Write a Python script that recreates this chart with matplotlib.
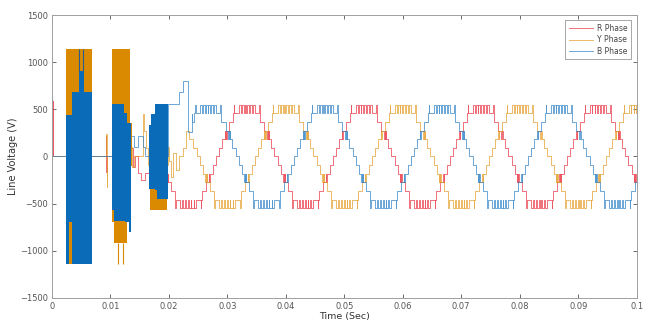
import numpy as np
import matplotlib
matplotlib.use("Agg")
import matplotlib.pyplot as plt

# ---------------- data ----------------
PERIOD = 0.02          # s (peak-to-peak spacing of each phase)
T_END = 0.1

# One positive half cycle of the steady-state staircase (angle in deg, level in V);
# the negative half cycle is the mirror image (as seen in the picture).
HALF_ANGLES = [0, 4.8, 14.5, 22.0, 23.0, 24.6, 26.0, 27.5, 35.7, 48.6, 49.5, 52.0,
               65, 72, 74, 81, 83, 89, 91, 97, 99, 106, 108, 115, 128, 130.5,
               131.4, 144.3, 152.5, 154.0, 155.4, 157.0, 158.0, 165.5, 175.2]
HALF_LEVELS = [0, 92, 183, 275, 183, 275, 183, 275, 367, 458, 550, 458,
               550, 458, 550, 458, 550, 458, 550, 458, 550, 458, 550, 458, 550, 458,
               367, 275, 183, 275, 183, 275, 183, 92, 0]

# rising zero crossing of each phase (s) and time from which it is in steady state
ZERO_R, ZERO_Y, ZERO_B = 0.00833, 0.0150, 0.00167
START_R, START_Y, START_B = 0.0190, 0.0240, 0.0240

# transient part of each phase (step breakpoints: time s, voltage V)
R_TR_T = [0.0, 0.0001, 0.0002, 0.0092, 0.0093, 0.0094, 0.0133, 0.0136, 0.0139,
          0.0142, 0.0147, 0.0152, 0.0160, 0.0168, 0.0176, 0.0183]
R_TR_V = [0, 590, 0, 220, -170, 0, 220, 90, -110, 0, -180, -250, -180, -250, -330, -250]

Y_TR_T = [0.0, 0.0093, 0.00935, 0.0094, 0.0133, 0.0135, 0.0137, 0.0140, 0.0155,
          0.0158, 0.0161, 0.0164, 0.0199, 0.0201, 0.0204, 0.0207, 0.0212, 0.0218,
          0.0224, 0.0229, 0.0234]
Y_TR_V = [0, 240, -320, 0, 350, 100, -110, 0, 455, 275, 92, -95, 100, -50, -220,
          40, -148, 0, 92, 275, 183]

B_TR_T = [0.0, 0.0134, 0.0136, 0.0140, 0.0147, 0.0155, 0.0160, 0.0199, 0.0218,
          0.0224, 0.0233, 0.0239]
B_TR_V = [0, 250, 220, 100, 220, 100, 0, 560, 680, 800, 258, 455]

# dense switching blocks during start-up (step envelopes)
Y_BLK1_T = [0.00234, 0.00678]
Y_BLK1_HI = [1140, 1140]
Y_BLK1_LO = [-1140, -1140]
B_BLK1_T = [0.00234, 0.0029, 0.0034, 0.0035, 0.0046, 0.0055, 0.00678]
B_BLK1_HI = [440, 440, 680, 680, 908, 680, 680]
B_BLK1_LO = [-1140, -690, -690, -1140, -1140, -1140, -1140]

Y_BLK2_T = [0.0102, 0.0107, 0.0128, 0.01334, 0.0137]
Y_BLK2_HI = [1140, 1140, 1140, 350, 350]
Y_BLK2_LO = [-690, -920, -700, -100, -100]
B_BLK2_T = [0.0102, 0.0107, 0.0124, 0.0125, 0.0129, 0.0131, 0.0135]
B_BLK2_HI = [560, 560, 460, 460, 350, 350, 350]
B_BLK2_LO = [-570, -680, -680, -700, -700, -800, -800]

Y_BLK3_T = [0.0168, 0.0196]
Y_BLK3_HI = [-340, -340]
Y_BLK3_LO = [-570, -570]
B_BLK3_T = [0.01655, 0.0170, 0.0176, 0.0180, 0.0199]
B_BLK3_HI = [330, 455, 560, 560, 560]
B_BLK3_LO = [-340, -340, -360, -450, -450]

# isolated spikes
B_SPIKE_T = [0.00455, 0.0053]
B_SPIKE_LO, B_SPIKE_HI = 908, 1140
Y_SPIKE_T = [0.01134, 0.01219]
Y_SPIKE_LO, Y_SPIKE_HI = -920, -1140

X_TICKS = [0, 0.01, 0.02, 0.03, 0.04, 0.05, 0.06, 0.07, 0.08, 0.09, 0.1]
X_LABELS = ["0", "0.01", "0.02", "0.03", "0.04", "0.05", "0.06", "0.07", "0.08", "0.09", "0.1"]
Y_TICKS = [-1500, -1000, -500, 0, 500, 1000, 1500]
LEGEND = ["R Phase", "Y Phase", "B Phase"]

C_R, C_Y, C_B = "#E8303F", "#E39A22", "#2A7FC4"
C_YBLK, C_BBLK = "#D98A00", "#0A6CB8"


def phase_wave(zero, start, tr_t, tr_v):
    ang = np.asarray(HALF_ANGLES, float)
    lev = np.asarray(HALF_LEVELS, float)
    ts, vs = [], []
    for k in range(-2, 8):
        for h, sgn in ((0, 1), (1, -1)):
            ts.extend(zero + k * PERIOD + (ang + 180 * h) / 360 * PERIOD)
            vs.extend(sgn * lev)
    ts = np.asarray(ts); vs = np.asarray(vs)
    order = np.argsort(ts)
    ts, vs = ts[order], vs[order]
    before = vs[ts <= start]
    v0 = before[-1] if len(before) else 0
    keep = (ts > start) & (ts <= T_END)
    t_all = list(tr_t) + [start] + list(ts[keep]) + [T_END]
    v_all = list(tr_v) + [v0] + list(vs[keep]) + [vs[keep][-1]]
    return np.asarray(t_all), np.asarray(v_all)


fig = plt.figure(figsize=(6.49, 3.27), dpi=100)
ax = fig.add_axes([0.080, 0.089, 0.901, 0.865])

for (zero, start, tt, vv, c, lab) in [
        (ZERO_R, START_R, R_TR_T, R_TR_V, C_R, LEGEND[0]),
        (ZERO_Y, START_Y, Y_TR_T, Y_TR_V, C_Y, LEGEND[1]),
        (ZERO_B, START_B, B_TR_T, B_TR_V, C_B, LEGEND[2])]:
    t, v = phase_wave(zero, start, tt, vv)
    ax.plot(t, v, drawstyle="steps-post", color=c, lw=0.6, alpha=0.8, label=lab, zorder=2)

for (t, lo, hi, c) in [
        (Y_BLK1_T, Y_BLK1_LO, Y_BLK1_HI, C_YBLK), (B_BLK1_T, B_BLK1_LO, B_BLK1_HI, C_BBLK),
        (Y_BLK2_T, Y_BLK2_LO, Y_BLK2_HI, C_YBLK), (B_BLK2_T, B_BLK2_LO, B_BLK2_HI, C_BBLK),
        (Y_BLK3_T, Y_BLK3_LO, Y_BLK3_HI, C_YBLK), (B_BLK3_T, B_BLK3_LO, B_BLK3_HI, C_BBLK)]:
    ax.fill_between(t, lo, hi, step="post", color=c, lw=0, zorder=3)

ax.vlines(B_SPIKE_T, B_SPIKE_LO, B_SPIKE_HI, color="#2A5A90", lw=0.8, zorder=4)
ax.vlines(Y_SPIKE_T, Y_SPIKE_LO, Y_SPIKE_HI, color=C_YBLK, lw=0.8, zorder=4)

ax.set_xlim(0, 0.1)
ax.set_ylim(-1500, 1500)
ax.set_xticks(X_TICKS)
ax.set_xticklabels(X_LABELS)
ax.set_yticks(Y_TICKS)
ax.tick_params(direction="in", length=3, width=0.6, labelsize=6, colors="#555555",
               top=True, right=True, pad=3)
for s in ax.spines.values():
    s.set_color("#A0A0A0")
    s.set_linewidth(0.7)
ax.set_xlabel("Time (Sec)", fontsize=6.8, color="#333333", labelpad=1)
ax.set_ylabel("Line Voltage (V)", fontsize=7, color="#333333", labelpad=1)

leg = ax.legend(loc="upper right", bbox_to_anchor=(0.991, 0.982), borderaxespad=0,
                fontsize=5.5, fancybox=False, framealpha=1, edgecolor="#999999",
                handlelength=3.2, handletextpad=0.5, borderpad=0.5, labelspacing=0.3)
leg.get_frame().set_linewidth(0.6)
for txt in leg.get_texts():
    txt.set_color("#444444")

fig.savefig("out.png", dpi=100)
